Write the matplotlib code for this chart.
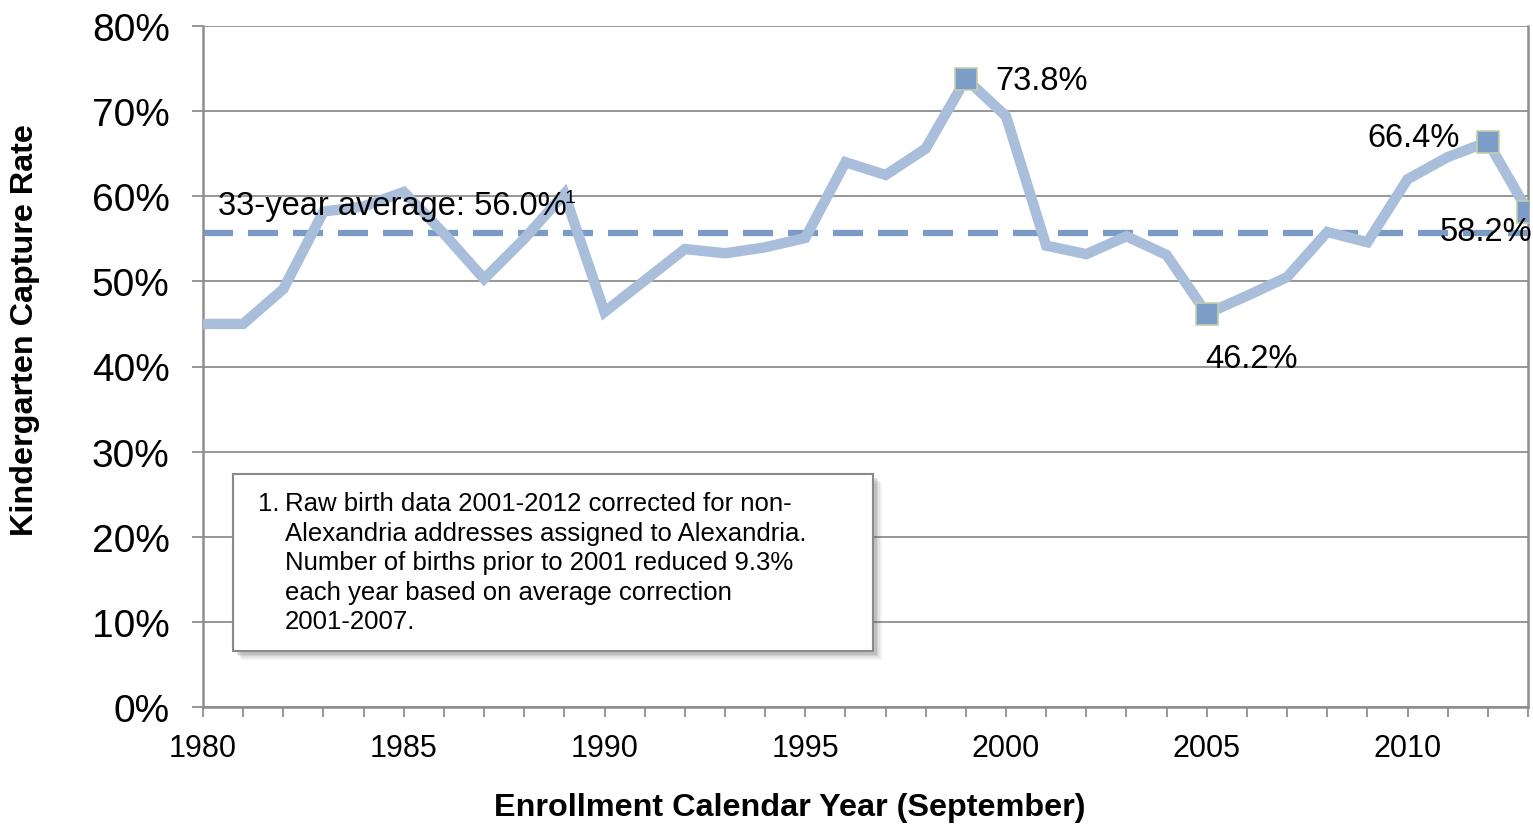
import matplotlib
matplotlib.use("Agg")
import matplotlib.pyplot as plt
from matplotlib.patches import Rectangle

plt.rcParams["font.family"] = ["Liberation Sans", "DejaVu Sans"]

# capture rate by enrollment year
years = list(range(1980, 2014))
rates = [45.0, 45.0, 49.1, 58.2, 58.8, 60.5, 55.6, 50.3, 55.0, 60.3,
         46.4, 50.1, 53.8, 53.3, 54.0, 55.1, 64.0, 62.5, 65.6, 73.8,
         69.4, 54.2, 53.2, 55.3, 53.1, 46.2, 48.3, 50.5, 55.8, 54.6,
         62.0, 64.6, 66.4, 58.2]
avg_value = 55.7
avg_label = "33-year average: 56.0%"
avg_note = "1"

highlight_years = [1999, 2005, 2012, 2013]
highlight_labels = ["73.8%", "46.2%", "66.4%", "58.2%"]
# label offsets in points (dx, dy) and alignment
label_offsets = [(21, -1, "left"), (-1, -32, "left"), (-20, 3, "right"), (3, -14, "right")]

y_ticks = list(range(0, 81, 10))
x_major = [1980, 1985, 1990, 1995, 2000, 2005, 2010]

footnote_lines = [
    "Raw birth data 2001-2012 corrected for non-",
    "Alexandria addresses assigned to Alexandria.",
    "Number of births prior to 2001 reduced 9.3%",
    "each year based on average correction",
    "2001-2007.",
]

W, H = 1533, 828
fig = plt.figure(figsize=(W / 100, H / 100), dpi=100)
ax = fig.add_axes([203 / W, 1 - 708 / H, 1325 / W, 681 / H])

grid_c = "#8e8e8e"
line_c = "#a9bedb"
mark_c = "#7d9dc9"
dash_c = "#7b9bc7"

ax.set_xlim(1980, 2013)
ax.set_ylim(0, 80)
ax.set_yticks(y_ticks)
ax.set_yticklabels([f"{v}%" for v in y_ticks])
ax.set_xticks(x_major)
ax.set_xticks(years, minor=True)
ax.yaxis.grid(True, color=grid_c, lw=1.3)
ax.set_axisbelow(True)

for side in ["left", "bottom", "right"]:
    ax.spines[side].set_color(grid_c)
    ax.spines[side].set_linewidth(1.8)
ax.spines["top"].set_visible(False)

ax.tick_params(axis="y", length=8, width=1.3, color=grid_c, labelsize=28, pad=16)
ax.tick_params(axis="x", which="both", length=7, width=1.3, color=grid_c,
               labelsize=22, pad=12)
ax.tick_params(axis="x", which="minor", labelbottom=False)

ax.axhline(avg_value, color=dash_c, lw=4.5, dashes=(4.8, 2.4), zorder=2)
ax.plot(years, rates, color=line_c, lw=7.5, solid_joinstyle="miter", zorder=3)

hv = [rates[years.index(y)] for y in highlight_years]
ax.plot(highlight_years, hv, ls="none", marker="s", ms=15.5, mfc=mark_c,
        mec="#c3d0a8", mew=1.2, zorder=4)

for yr, val, lab, (dx, dy, ha) in zip(highlight_years, hv, highlight_labels, label_offsets):
    ax.annotate(lab, (yr, val), xytext=(dx, dy), textcoords="offset points",
                ha=ha, va="center", fontsize=23.5, annotation_clip=False, zorder=5)

ax.text(1980.37, 58.9, avg_label, fontsize=23.5, va="center", ha="left", zorder=5)
ax.text(1989.0, 59.9, avg_note, fontsize=14, va="center", ha="left", zorder=5)

fig.text(790 / W, 1 - 808 / H, "Enrollment Calendar Year (September)",
         fontsize=23.3, fontweight="bold", ha="center", va="center")
fig.text(25 / W, 1 - 330 / H, "Kindergarten Capture Rate", fontsize=23.3,
         fontweight="bold", ha="center", va="center", rotation=90)

# footnote box with soft shadow
bx, by, bw, bh = 233, 475, 640, 177
for i, a in enumerate([0.08, 0.10, 0.13, 0.16]):
    off = 9 - i * 1.8
    fig.add_artist(Rectangle(((bx + off) / W, 1 - (by + bh + off) / H), bw / W, bh / H,
                             transform=fig.transFigure, facecolor="#606060",
                             edgecolor="none", alpha=a, zorder=6))
fig.add_artist(Rectangle((bx / W, 1 - (by + bh) / H), bw / W, bh / H,
                         transform=fig.transFigure, facecolor="white",
                         edgecolor="#8a8a8a", lw=1.5, zorder=7))

fig.text(258 / W, 1 - 511 / H, "1.", fontsize=18.5, va="baseline", zorder=8)
for i, line in enumerate(footnote_lines):
    fig.text(285 / W, 1 - (511 + i * 29.6) / H, line, fontsize=18.5,
             va="baseline", zorder=8)

fig.savefig("out.png", dpi=100)
